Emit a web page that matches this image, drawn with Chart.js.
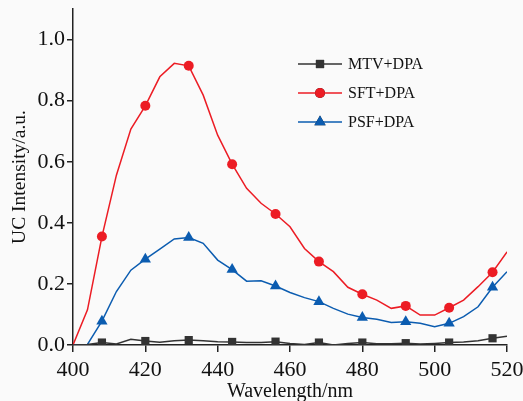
<!DOCTYPE html>
<html>
<head>
<meta charset="utf-8">
<script src="https://cdn.jsdelivr.net/npm/chart.js@4/dist/chart.umd.min.js"></script>
<style>
  html, body { margin: 0; padding: 0; background: #fafafa; overflow: hidden; }
  #wrap { width: 523px; height: 401px; overflow: hidden; }
</style>
</head>
<body>
<div id="wrap"><canvas id="ucChart" width="523" height="404"></canvas></div>
<script>
// Emission wavelengths (nm), sampled every 4 nm
const wavelengths = [400, 404, 408, 412, 416, 420, 424, 428, 432, 436, 440, 444, 448, 452, 456, 460,
                     464, 468, 472, 476, 480, 484, 488, 492, 496, 500, 504, 508, 512, 516, 520];
// Wavelengths where a symbol is drawn on the curve
const markerWavelengths = [408, 420, 432, 444, 456, 468, 480, 492, 504, 516];

const mtvDpa = [0, 0.002, 0.008, 0.003, 0.019, 0.013, 0.009, 0.014, 0.016, 0.014, 0.011, 0.010, 0.008, 0.008, 0.011, 0.005,
                0.002, 0.008, 0.000, 0.005, 0.008, 0.004, 0.004, 0.006, 0.003, 0.005, 0.008, 0.010, 0.014, 0.022, 0.029];
const sftDpa = [0, 0.115, 0.355, 0.556, 0.707, 0.783, 0.878, 0.922, 0.914, 0.818, 0.687, 0.592, 0.513, 0.464, 0.429, 0.387,
                0.316, 0.273, 0.240, 0.189, 0.166, 0.147, 0.120, 0.128, 0.098, 0.098, 0.122, 0.147, 0.191, 0.238, 0.305];
const psfDpa = [0, 0.002, 0.078, 0.175, 0.245, 0.281, 0.314, 0.347, 0.352, 0.333, 0.278, 0.247, 0.209, 0.210, 0.193, 0.172,
                0.155, 0.142, 0.120, 0.101, 0.090, 0.084, 0.074, 0.076, 0.071, 0.060, 0.071, 0.093, 0.125, 0.189, 0.240];

const xTicks = [400, 420, 440, 460, 480, 500, 520];
const yTicks = [0, 0.2, 0.4, 0.6, 0.8, 1.0];

const serif = "'Liberation Serif', 'Times New Roman', serif";
const axisColor = '#222';

function toPoints(values) {
    return wavelengths.map((w, i) => ({ x: w, y: values[i] }));
}

function series(label, values, color, style, radius) {
    return {
        label: label,
        data: toPoints(values),
        borderColor: color,
        backgroundColor: color,
        borderWidth: 1.5,
        tension: 0,
        pointStyle: style,
        pointBorderWidth: 0,
        pointRadius: ctx => markerWavelengths.includes(wavelengths[ctx.dataIndex]) ? radius : 0,
        pointHoverRadius: radius,
        legendRadius: radius
    };
}

// Legend drawn inside the plot: short line with the symbol in its middle
const insideLegend = {
    id: 'insideLegend',
    afterDatasetsDraw(chart) {
        const ctx = chart.ctx;
        const x0 = 298, x1 = 342, tx = 348;
        const rows = [64, 93, 122];
        ctx.save();
        chart.data.datasets.forEach((ds, i) => {
            const y = rows[i];
            ctx.strokeStyle = ds.borderColor;
            ctx.lineWidth = 1.5;
            ctx.beginPath();
            ctx.moveTo(x0, y);
            ctx.lineTo(x1, y);
            ctx.stroke();
            Chart.helpers.drawPoint(ctx, {
                pointStyle: ds.pointStyle,
                radius: ds.legendRadius,
                borderWidth: 0,
                rotation: 0
            }, (x0 + x1) / 2, y);
            ctx.fillStyle = ds.backgroundColor;
            ctx.fill();
            ctx.fillStyle = '#111';
            ctx.font = '16px ' + serif;
            ctx.textBaseline = 'middle';
            ctx.textAlign = 'left';
            ctx.fillText(ds.label, tx, y + 1);
        });
        ctx.restore();
    }
};

new Chart(document.getElementById('ucChart'), {
    type: 'line',
    data: {
        datasets: [
            series('MTV+DPA', mtvDpa, '#333333', 'rect', 5.8),
            series('SFT+DPA', sftDpa, '#ec1c24', 'circle', 5),
            series('PSF+DPA', psfDpa, '#0b5cb0', 'triangle', 6.5)
        ]
    },
    options: {
        responsive: false,
        animation: false,
        layout: { padding: { top: 9, right: 16, left: 0, bottom: 0 } },
        plugins: { legend: { display: false }, tooltip: { enabled: false } },
        scales: {
            x: {
                type: 'linear',
                min: 400,
                max: 520,
                afterBuildTicks: scale => { scale.ticks = xTicks.map(v => ({ value: v })); },
                afterFit: scale => {
                    scale.height = 59;
                    scale.paddingLeft = 0;
                    scale.paddingRight = 0;
                },
                grid: { drawOnChartArea: false, drawTicks: true, tickLength: 7, color: axisColor, lineWidth: 1.5 },
                border: { color: axisColor, width: 1.5 },
                ticks: { color: '#111', font: { family: serif, size: 22 }, padding: 5, maxRotation: 0 },
                title: {
                    display: true,
                    text: 'Wavelength/nm',
                    color: '#111',
                    font: { family: serif, size: 20 },
                    padding: { top: 0, bottom: 0 }
                }
            },
            y: {
                min: 0,
                max: 1.1,
                afterBuildTicks: scale => { scale.ticks = yTicks.map(v => ({ value: v })); },
                afterFit: scale => {
                    scale.width = 73;
                    scale.paddingTop = 0;
                    scale.paddingBottom = 0;
                },
                grid: { drawOnChartArea: false, drawTicks: true, tickLength: 6, color: axisColor, lineWidth: 1.5 },
                border: { color: axisColor, width: 1.5 },
                ticks: {
                    color: '#111',
                    font: { family: serif, size: 22 },
                    padding: 2,
                    callback: v => v.toFixed(1)
                },
                title: {
                    display: true,
                    text: 'UC Intensity/a.u.',
                    color: '#111',
                    font: { family: serif, size: 19.5 },
                    padding: { top: 8, bottom: 0 }
                }
            }
        }
    },
    plugins: [insideLegend]
});
</script>
</body>
</html>
